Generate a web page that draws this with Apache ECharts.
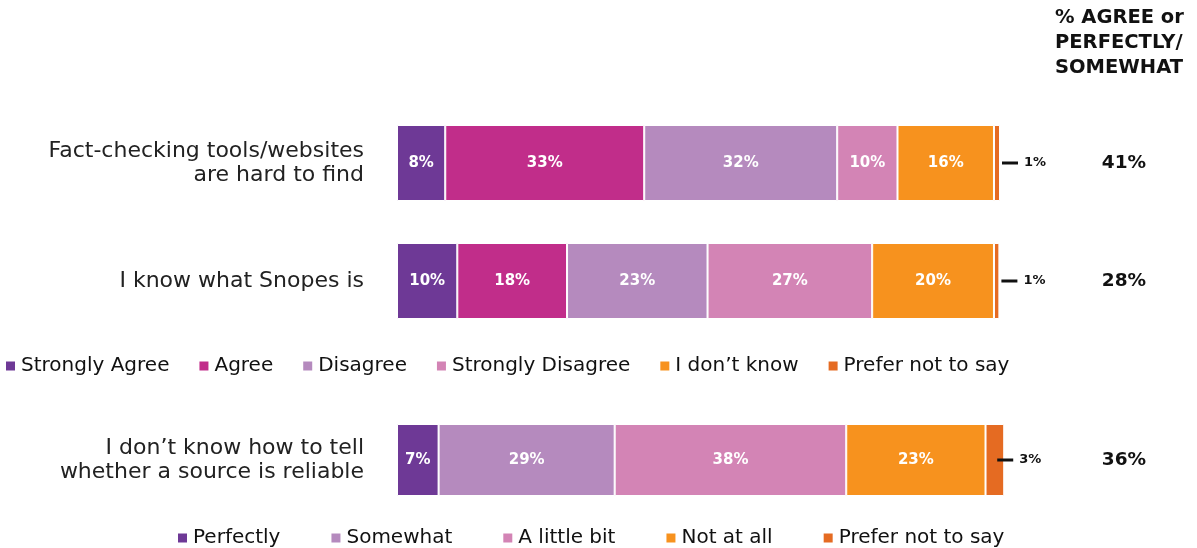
<!DOCTYPE html>
<html>
<head>
<meta charset="utf-8">
<script src="https://cdn.jsdelivr.net/npm/echarts@6/dist/echarts.min.js"></script>
<style>html,body{margin:0;padding:0;background:#fff;}#c{width:1197px;height:548px;}</style>
</head>
<body>
<div id="c"></div>
<script>
// ---- data ----
const topCategories = ['Fact-checking tools/websites\nare hard to find', 'I know what Snopes is'];
const topSeriesNames = ['Strongly Agree', 'Agree', 'Disagree', 'Strongly Disagree', 'I don\u2019t know', 'Prefer not to say'];
const topValues = [
  [8, 10],       // Strongly Agree
  [33, 18.2],    // Agree
  [32, 23.3],    // Disagree
  [10, 27.3],    // Strongly Disagree
  [16, 20.2],    // I don't know
  [1, 0.9]       // Prefer not to say
];
const topTotals = ['41%', '28%'];

const bottomCategories = ['I don\u2019t know how to tell\nwhether a source is reliable'];
const bottomSeriesNames = ['Perfectly', 'Somewhat', 'A little bit', 'Not at all', 'Prefer not to say'];
const bottomValues = [
  [6.9],   // Perfectly
  [29.2],  // Somewhat
  [38.4],  // A little bit
  [23.1],  // Not at all
  [3.1]    // Prefer not to say
];
const bottomTotals = ['36%'];
const totalHeader = '% AGREE or\nPERFECTLY/\nSOMEWHAT';

// ---- styles ----
const FONT = 'DejaVu Sans';
const topColors = ['#6E3996', '#C12D8A', '#B58ABE', '#D384B5', '#F7921E', '#E56B22'];
const bottomColors = ['#6E3996', '#B58ABE', '#D384B5', '#F7921E', '#E56B22'];

function pct(v) { return Math.round(v) + '%'; }

function makeSeries(names, values, colors, xi, yi, stack, barWidth, outsideDist) {
  return names.map((n, i) => {
    const last = i === names.length - 1;
    return {
      name: n, type: 'bar', stack: stack, xAxisIndex: xi, yAxisIndex: yi,
      barWidth: barWidth, clip: false,
      data: values[i],
      itemStyle: { color: colors[i], borderColor: '#fff', borderWidth: 1 },
      label: last ? {
        show: true, position: 'right', distance: outsideDist,
        formatter: p => '{d|}{t|' + pct(p.value) + '}',
        rich: {
          d: { backgroundColor: '#111', width: 16, height: 3 },
          t: { fontFamily: FONT, fontWeight: 'bold', fontSize: 13, color: '#111', padding: [0, 0, 0, 6] }
        }
      } : {
        show: true, position: 'inside',
        formatter: p => pct(p.value),
        color: '#fff', fontFamily: FONT, fontWeight: 'bold', fontSize: 15
      }
    };
  });
}

const chart = echarts.init(document.getElementById('c'), null, { renderer: 'canvas' });
const catLabel = { fontFamily: FONT, fontSize: 22, color: '#222', lineHeight: 24, margin: 33, align: 'right' };
const totLabel = { fontFamily: FONT, fontSize: 18.5, fontWeight: 'bold', color: '#111', margin: 124, align: 'center' };
const legText = { fontFamily: FONT, fontSize: 20, color: '#111' };

chart.setOption({
  animation: false,
  title: {
    text: totalHeader, left: 1055, top: 5, padding: 0,
    textStyle: { fontFamily: FONT, fontSize: 19.5, fontWeight: 'bold', color: '#111', lineHeight: 25 }
  },
  legend: [
    {
      data: topSeriesNames, left: 4, top: 356, padding: 0, icon: 'rect', itemWidth: 11, itemHeight: 11, itemGap: 28,
      textStyle: legText
    },
    {
      data: bottomSeriesNames, left: 176, top: 528, padding: 0, icon: 'rect', itemWidth: 11, itemHeight: 11, itemGap: 49,
      textStyle: legText
    }
  ],
  grid: [
    { left: 397, width: 603, top: 104, height: 236 },
    { left: 397, width: 603, top: 424, height: 72 }
  ],
  xAxis: [
    { gridIndex: 0, type: 'value', min: 0, max: 100, show: false },
    { gridIndex: 1, type: 'value', min: 0, max: 100, show: false }
  ],
  yAxis: [
    { gridIndex: 0, type: 'category', data: topCategories, inverse: true, axisLine: { show: false }, axisTick: { show: false }, axisLabel: catLabel },
    { gridIndex: 0, type: 'category', data: topCategories, inverse: true, position: 'right', axisLine: { show: false }, axisTick: { show: false },
      axisLabel: Object.assign({}, totLabel, { formatter: (v, i) => topTotals[i] }) },
    { gridIndex: 1, type: 'category', data: bottomCategories, inverse: true, axisLine: { show: false }, axisTick: { show: false }, axisLabel: catLabel },
    { gridIndex: 1, type: 'category', data: bottomCategories, inverse: true, position: 'right', axisLine: { show: false }, axisTick: { show: false },
      axisLabel: Object.assign({}, totLabel, { formatter: (v, i) => bottomTotals[i] }) }
  ],
  series: [].concat(
    makeSeries(topSeriesNames, topValues, topColors, 0, 0, 'top', 76, 2),
    makeSeries(bottomSeriesNames, bottomValues, bottomColors, 1, 2, 'bottom', 72, -7)
  )
});
</script>
</body>
</html>
